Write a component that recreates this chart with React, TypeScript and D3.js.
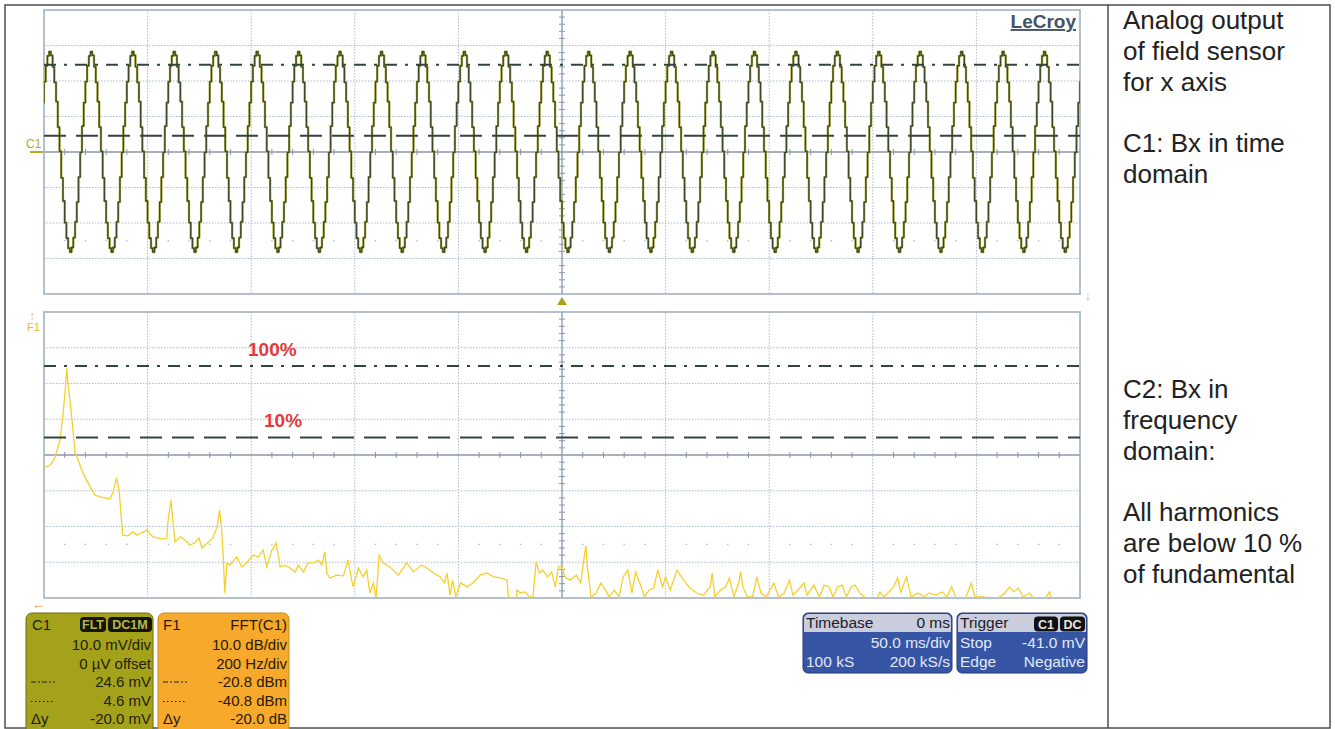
import * as d3 from "d3";

const FONT = "'Liberation Sans', Arial, Helvetica, sans-serif";

// C1 (time domain): one cycle of the stepped sine, in mV, starting at a crest
const c1CycleMv = [28.3, 27.2, 24.0, 19.6, 14.2, 7.0, 0.2, -7.3, -13.8, -19.9, -24.3, -27.1, -28.2, -26.9, -24.1, -19.7, -14.1, -7.1, -0.1, 7.3, 13.9, 19.8, 24.3, 27.1];
const c1FirstCrestMs = -247.1;
const c1PeriodMs = 20.0;
const c1CursorsMv = [24.6, 4.6];

// F1 = FFT(C1), frequency in Hz and level in dBm
const fftHz = [
  0, 12, 21, 28, 31, 37, 41, 44, 46, 50, 54, 60, 66, 75, 89, 98, 108, 127, 133, 140,
  145, 149, 152, 162, 172, 179, 199, 210, 230, 237, 239, 245, 248, 253, 263, 272, 282, 291, 299, 305,
  315, 326, 334, 339, 343, 346, 349, 353, 359, 372, 382, 391, 404, 414, 423, 430, 440, 448, 456, 465,
  475, 485, 491, 501, 510, 520, 530, 536, 542, 546, 552, 565, 578, 587, 594, 597, 607, 616, 623, 629,
  636, 641, 647, 655, 668, 684, 700, 713, 729, 739, 752, 765, 773, 778, 784, 789, 795, 804, 817, 830,
  842, 855, 868, 881, 894, 898, 911, 913, 920, 929, 937, 944, 950, 956, 963, 972, 980, 987, 993, 999,
  1006, 1015, 1028, 1036, 1042, 1046, 1049, 1056, 1066, 1075, 1084, 1091, 1101, 1110, 1118, 1127, 1135, 1142, 1153, 1159,
  1168, 1177, 1185, 1194, 1200, 1209, 1222, 1235, 1247, 1260, 1273, 1286, 1290, 1295, 1306, 1316, 1323, 1332, 1341, 1345,
  1349, 1358, 1368, 1376, 1384, 1394, 1409, 1418, 1429, 1439, 1446, 1459, 1467, 1473, 1486, 1497, 1506, 1516, 1523, 1532,
  1541, 1549, 1558, 1566, 1575, 1584, 1600, 1609, 1614, 1622, 1631, 1640, 1648, 1654, 1665, 1674, 1687, 1700, 1708, 1721,
  1734, 1743, 1752, 1760, 1770, 1780, 1790, 1797, 1816, 1822, 1829, 1846, 1855, 1864, 1872, 1881, 1890, 1903, 1911, 1920,
  1932, 1941, 1946, 1952,
];
const fftDbm = [
  -49.3, -48.5, -46.5, -42.9, -41.5, -33.9, -27.5, -21.4, -25.6, -30.3, -35.9, -45.1, -47.1, -50.7, -54.6, -56.9, -57.4, -58.0, -56.3, -52.1,
  -55.5, -63.0, -68.1, -68.3, -67.2, -68.1, -66.7, -68.6, -69.2, -68.9, -64.7, -58.3, -63.0, -70.0, -68.6, -69.5, -70.9, -70.3, -68.9, -71.7,
  -70.3, -68.9, -65.8, -61.1, -66.7, -74.2, -84.3, -75.9, -76.5, -74.2, -77.0, -75.9, -73.7, -74.2, -72.3, -77.0, -72.3, -70.3, -77.0, -76.5,
  -77.3, -78.4, -76.5, -78.4, -75.9, -75.9, -75.1, -76.5, -72.8, -78.7, -80.1, -79.3, -79.5, -75.1, -80.7, -82.6, -77.3, -79.8, -77.9, -84.3,
  -81.5, -86.0, -73.7, -75.9, -77.0, -79.3, -75.9, -78.4, -76.5, -77.3, -78.7, -79.8, -81.5, -78.7, -84.9, -80.7, -85.4, -81.5, -82.6, -81.2,
  -79.3, -78.7, -79.8, -80.1, -80.7, -88.0, -88.0, -83.5, -84.3, -84.0, -85.4, -85.4, -75.6, -78.7, -77.9, -79.8, -78.4, -82.6, -77.0, -76.7,
  -79.8, -80.7, -79.3, -81.5, -75.1, -71.1, -77.0, -85.4, -84.3, -81.5, -83.5, -85.4, -83.5, -85.4, -79.8, -77.9, -84.3, -78.4, -82.6, -85.4,
  -83.5, -82.9, -77.9, -82.6, -79.8, -83.5, -77.9, -80.7, -82.9, -84.3, -84.9, -82.6, -78.7, -85.4, -83.5, -82.6, -80.1, -85.4, -81.5, -78.4,
  -82.6, -85.4, -85.4, -79.8, -84.3, -85.4, -81.5, -85.4, -84.3, -80.7, -84.9, -82.9, -81.5, -84.9, -82.1, -85.4, -82.1, -82.6, -85.4, -82.6,
  -82.1, -85.4, -82.6, -82.1, -84.3, -85.4, -88.0, -85.4, -84.0, -85.4, -84.0, -82.6, -80.1, -84.0, -79.8, -85.4, -84.3, -85.4, -84.3, -84.9,
  -84.0, -85.4, -82.6, -85.4, -88.0, -85.4, -81.5, -85.4, -85.4, -88.0, -86.0, -85.4, -84.3, -82.6, -84.0, -82.9, -85.4, -84.3, -86.0, -88.0,
  -86.0, -84.0, -86.0, -90.0,
];
const f1CursorsDbm = [-20.8, -40.8];
const f1CursorLabels = ["100%", "10%"];

// info boxes under the screen
const c1Badges = ["FLT", "DC1M"];
const c1Rows = [["", "10.0 mV/div"], ["", "0 µV offset"], ["dashdot", "24.6 mV"], ["dot", "4.6 mV"], ["Δy", "-20.0 mV"]];
const f1Rows = [["", "10.0 dB/div"], ["", "200 Hz/div"], ["dashdot", "-20.8 dBm"], ["dot", "-40.8 dBm"], ["Δy", "-20.0 dB"]];
const timebaseRows = [["", "50.0 ms/div"], ["100 kS", "200 kS/s"]];
const triggerBadges = ["C1", "DC"];
const triggerRows = [["Stop", "-41.0 mV"], ["Edge", "Negative"]];

const sideNotes = [
  "Analog output", "of field sensor", "for x axis", "", "C1: Bx in time", "domain",
  "", "", "", "", "", "",
  "C2: Bx in", "frequency", "domain:", "", "All harmonics", "are below 10 %", "of fundamental",
];

const W = 1335;
const H = 729;
const TOP = { x0: 44, x1: 1080, y0: 10, y1: 294 };
const BOT = { x0: 44, x1: 1080, y0: 312, y1: 598 };

const xT = d3.scaleLinear().domain([-250, 250]).range([TOP.x0, TOP.x1]);
const yT = d3.scaleLinear().domain([-40, 40]).range([TOP.y1, TOP.y0]);
const xF = d3.scaleLinear().domain([0, 2000]).range([BOT.x0, BOT.x1]);
const yF = d3.scaleLinear().domain([-85.7, -5.7]).range([BOT.y1, BOT.y0]);

function Graticule({ x0, x1, y0, y1 }: { x0: number; x1: number; y0: number; y1: number }) {
  const dx = (x1 - x0) / 10;
  const dy = (y1 - y0) / 8;
  const cx = x0 + 5 * dx;
  const cy = y0 + 4 * dy;
  const grid = "#a9bbce";
  const axis = "#8797ab";
  return (
    <g>
      {d3.range(1, 10).filter((i) => i !== 5).map((i) => (
        <line key={"v" + i} x1={x0 + i * dx} x2={x0 + i * dx} y1={y0} y2={y1} stroke={grid} strokeWidth={1} strokeDasharray="1.5 1.5" />
      ))}
      {d3.range(1, 8).filter((j) => j !== 4).map((j) => (
        <line key={"h" + j} x1={x0} x2={x1} y1={y0 + j * dy} y2={y0 + j * dy} stroke={grid} strokeWidth={1} strokeDasharray="1.5 1.5" />
      ))}
      {d3.range(1, 50).filter((i) => i % 5 !== 0).map((i) => (
        <rect key={"d" + i} x={x0 + (i * dx) / 5 - 0.7} y={cy + 2.5 * dy - 0.7} width={1.4} height={1.4} fill={grid} />
      ))}
      <line x1={x0} x2={x1} y1={cy} y2={cy} stroke={axis} strokeWidth={1.3} />
      <line x1={cx} x2={cx} y1={y0} y2={y1} stroke={axis} strokeWidth={1.3} />
      {d3.range(1, 50).filter((i) => i % 5 !== 0).map((i) => (
        <line key={"tx" + i} x1={x0 + (i * dx) / 5} x2={x0 + (i * dx) / 5} y1={cy - 3} y2={cy + 3} stroke={axis} strokeWidth={1} />
      ))}
      {d3.range(1, 40).filter((j) => j % 5 !== 0).map((j) => (
        <line key={"ty" + j} x1={cx - 3} x2={cx + 3} y1={y0 + (j * dy) / 5} y2={y0 + (j * dy) / 5} stroke={axis} strokeWidth={1} />
      ))}
      <rect x={x0} y={y0} width={x1 - x0} height={y1 - y0} fill="none" stroke="#a0b1c5" strokeWidth={1.6} />
    </g>
  );
}

function RowMark({ kind, x, y }: { kind: string; x: number; y: number }) {
  if (kind === "dashdot") return <line x1={x} x2={x + 24} y1={y - 5} y2={y - 5} stroke="#222" strokeWidth={1.2} strokeDasharray="5 2 2 2" />;
  if (kind === "dot") return <line x1={x} x2={x + 24} y1={y - 4} y2={y - 4} stroke="#222" strokeWidth={1.2} strokeDasharray="1.5 2.5" />;
  if (kind) return <text x={x} y={y} fontSize={15}>{kind}</text>;
  return null;
}

export default function App() {
  const step = c1PeriodMs / c1CycleMv.length;
  const c1Points: [number, number][] = [];
  for (let k = -1; c1FirstCrestMs + k * c1PeriodMs < 260; k++) {
    const t0 = c1FirstCrestMs + k * c1PeriodMs;
    c1CycleMv.forEach((v, i) => c1Points.push([t0 + i * step, v]));
  }
  const c1Line = d3.line<[number, number]>().x((d) => xT(d[0])).y((d) => yT(d[1])).curve(d3.curveStep)(c1Points) || "";
  const fftLine = d3.line<number>().x((d) => xF(d)).y((_, i) => yF(fftDbm[i]))(fftHz) || "";

  const rowY = [650, 668.5, 687, 705.5, 724];

  return (
    <svg width={W} height={H} style={{ position: "absolute", left: 0, top: 0, background: "#fff", fontFamily: FONT }}>
      <defs>
        <clipPath id="clipTop"><rect x={TOP.x0} y={TOP.y0} width={TOP.x1 - TOP.x0} height={TOP.y1 - TOP.y0} /></clipPath>
        <clipPath id="clipBot"><rect x={BOT.x0} y={BOT.y0} width={BOT.x1 - BOT.x0} height={BOT.y1 - BOT.y0} /></clipPath>
      </defs>

      {/* outer frame */}
      <rect x={5} y={5} width={1325} height={723} fill="none" stroke="#4d4d4d" strokeWidth={1.5} />
      <line x1={1108} x2={1108} y1={5} y2={728} stroke="#4d4d4d" strokeWidth={1.5} />

      {/* top: C1 */}
      <Graticule {...TOP} />
      <g clipPath="url(#clipTop)">
        <path d={c1Line} fill="none" stroke="#aaa83e" strokeWidth={2.3} strokeLinejoin="round" />
        <path d={c1Line} fill="none" stroke="#3c4826" strokeWidth={1.3} strokeLinejoin="round" />
      </g>
      {c1CursorsMv.map((v, i) => (
        <line key={"cc" + i} x1={TOP.x0} x2={TOP.x1} y1={yT(v)} y2={yT(v)} stroke="#33443c" strokeWidth={2}
          strokeDasharray={i === 0 ? "12 8 3 8" : "22 10"} />
      ))}
      <text x={1076} y={28} textAnchor="end" fontSize={19} fontWeight="bold" fill="#435365" textDecoration="underline">LeCroy</text>
      <text x={26} y={148} fontSize={12} fill="#b2ac22">C1</text>
      <line x1={30} x2={43} y1={yT(0)} y2={yT(0)} stroke="#b2ac22" strokeWidth={2} />
      <path d={`M${xT(0)},${TOP.y1 + 3} l-5,8 h10 z`} fill="#a8a21e" />
      <text x={1088} y={300} textAnchor="middle" fontSize={13} fill="#e8b820">↓</text>

      {/* bottom: F1 */}
      <Graticule {...BOT} />
      <g clipPath="url(#clipBot)">
        <path d={fftLine} fill="none" stroke="#f5d02c" strokeWidth={1.3} />
      </g>
      {f1CursorsDbm.map((v, i) => (
        <line key={"fc" + i} x1={BOT.x0} x2={BOT.x1} y1={yF(v)} y2={yF(v)} stroke="#33443c" strokeWidth={2}
          strokeDasharray={i === 0 ? "12 8 3 8" : "22 10"} />
      ))}
      {f1CursorLabels.map((s, i) => (
        <text key={s} x={i === 0 ? 248 : 264} y={yF(f1CursorsDbm[i]) - 10} fontSize={19} fontWeight="bold" fill="#e33b3b">{s}</text>
      ))}
      <text x={32} y={320} textAnchor="middle" fontSize={12} fill="#e8b830">↑</text>
      <text x={27} y={331} fontSize={11} fill="#e8b830">F1</text>
      <text x={39} y={609} textAnchor="middle" fontSize={14} fill="#f0a020">←</text>

      {/* C1 info box */}
      <g>
        <rect x={26} y={613} width={127} height={125} rx={6} fill="#a4a11b" stroke="#6e6c14" strokeWidth={1} />
        <text x={32} y={630} fontSize={15} fill="#1e2208">C1</text>
        {c1Badges.map((b, i) => {
          const bx = i === 0 ? 80 : 108;
          const bw = i === 0 ? 26 : 44;
          return (
            <g key={b}>
              <rect x={bx} y={617} width={bw} height={15} rx={4} fill="#141508" />
              <text x={bx + bw / 2} y={629} textAnchor="middle" fontSize={12.5} fontWeight="bold" fill="#b9b54a">{b}</text>
            </g>
          );
        })}
        {c1Rows.map((r, i) => (
          <g key={"c1r" + i} fill="#1e2208">
            <RowMark kind={r[0]} x={31} y={rowY[i]} />
            <text x={151} y={rowY[i]} textAnchor="end" fontSize={15}>{r[1]}</text>
          </g>
        ))}
      </g>

      {/* F1 info box */}
      <g>
        <rect x={158} y={613} width={131} height={125} rx={6} fill="#f6a92a" stroke="#c98b22" strokeWidth={1} />
        <text x={163} y={630} fontSize={15} fill="#2a1a00">F1</text>
        <text x={287} y={630} textAnchor="end" fontSize={15} fill="#2a1a00">FFT(C1)</text>
        {f1Rows.map((r, i) => (
          <g key={"f1r" + i} fill="#2a1a00">
            <RowMark kind={r[0]} x={163} y={rowY[i]} />
            <text x={287} y={rowY[i]} textAnchor="end" fontSize={15}>{r[1]}</text>
          </g>
        ))}
      </g>

      {/* Timebase box */}
      <g fontSize={15.5}>
        <rect x={803} y={613} width={149} height={60} rx={5} fill="#3655a5" stroke="#23397a" strokeWidth={1} />
        <path d="M804,632 V619 a5,5 0 0 1 5,-5 H946 a5,5 0 0 1 5,5 V632 Z" fill="#cacddc" />
        <text x={806} y={628} fill="#1b1c2c">Timebase</text>
        <text x={950} y={628} textAnchor="end" fill="#1b1c2c">0 ms</text>
        {timebaseRows.map((r, i) => (
          <g key={"tb" + i} fill="#e3e9f7">
            <text x={806} y={648 + i * 19}>{r[0]}</text>
            <text x={950} y={648 + i * 19} textAnchor="end">{r[1]}</text>
          </g>
        ))}
      </g>

      {/* Trigger box */}
      <g fontSize={15.5}>
        <rect x={957} y={613} width={130} height={60} rx={5} fill="#3655a5" stroke="#23397a" strokeWidth={1} />
        <path d="M958,632 V619 a5,5 0 0 1 5,-5 H1081 a5,5 0 0 1 5,5 V632 Z" fill="#cacddc" />
        <text x={960} y={628} fill="#1b1c2c">Trigger</text>
        {triggerBadges.map((b, i) => {
          const bx = i === 0 ? 1034 : 1060;
          const bw = i === 0 ? 24 : 25;
          return (
            <g key={b}>
              <rect x={bx} y={616.5} width={bw} height={15} rx={4} fill="#111" />
              <text x={bx + bw / 2} y={628.5} textAnchor="middle" fontSize={12.5} fontWeight="bold" fill="#e8e8e8">{b}</text>
            </g>
          );
        })}
        {triggerRows.map((r, i) => (
          <g key={"tr" + i} fill="#e3e9f7">
            <text x={960} y={648 + i * 19}>{r[0]}</text>
            <text x={1085} y={648 + i * 19} textAnchor="end">{r[1]}</text>
          </g>
        ))}
      </g>

      {/* side notes */}
      {sideNotes.map((s, i) => (
        <text key={"n" + i} x={1123} y={29 + i * 30.75} fontSize={26} fill="#222">{s}</text>
      ))}
    </svg>
  );
}
